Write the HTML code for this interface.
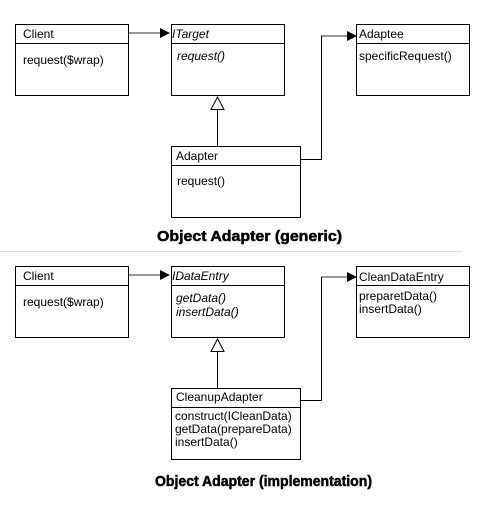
<!DOCTYPE html>
<html><head><style>
body{margin:0;background:#fff;}
text{font-family:"Liberation Sans",Arial,sans-serif;font-size:12px;fill:#000;}
.t{font-weight:bold;font-size:15px;stroke:#000;stroke-width:0.5;}
</style></head><body>
<svg width="500" height="500" xmlns="http://www.w3.org/2000/svg">
<g fill="#fff" stroke="#000" stroke-width="1">
<rect x="15.5" y="24.5" width="113" height="71"/><line x1="15" y1="43.5" x2="129" y2="43.5"/>
<rect x="171.5" y="24.5" width="113" height="71"/><line x1="171" y1="43.5" x2="285" y2="43.5"/>
<rect x="356.5" y="24.5" width="113" height="71"/><line x1="356" y1="43.5" x2="470" y2="43.5"/>
<rect x="171.5" y="146.5" width="129" height="71"/><line x1="171" y1="165.5" x2="301" y2="165.5"/>
<rect x="15.5" y="266.5" width="113" height="71"/><line x1="15" y1="285.5" x2="129" y2="285.5"/>
<rect x="171.5" y="266.5" width="113" height="71"/><line x1="171" y1="285.5" x2="285" y2="285.5"/>
<rect x="356.5" y="266.5" width="113" height="71"/><line x1="356" y1="285.5" x2="470" y2="285.5"/>
<rect x="171.5" y="388.5" width="129" height="71"/><line x1="171" y1="407.5" x2="301" y2="407.5"/>
</g>
<line x1="0" y1="251.5" x2="462" y2="251.5" stroke="#ddd" stroke-width="1"/>
<g stroke="#777" fill="none" stroke-width="1.5">
<line x1="129" y1="33" x2="162" y2="33"/>
<line x1="129" y1="275" x2="162" y2="275"/>
<polyline points="321,36 348,36"/>
<polyline points="321,277 348,277"/>
</g>
<g stroke="#000" fill="none" stroke-width="1">
<polyline points="301,159.5 321.5,159.5 321.5,36"/>
<polyline points="301,400.5 321.5,400.5 321.5,277"/>
<line x1="217.5" y1="146" x2="217.5" y2="109"/>
<line x1="217.5" y1="388" x2="217.5" y2="351"/>
<polygon points="217.5,97 211,109.5 224,109.5" fill="#fff"/>
<polygon points="217.5,339 211,351.5 224,351.5" fill="#fff"/>
</g>
<g fill="#000">
<polygon points="160,28 170,33 160,38"/>
<polygon points="160,270 170,275 160,280"/>
<polygon points="347,31 357,36 347,41"/>
<polygon points="347,272 357,277 347,282"/>
</g>
<text x="23" y="38">Client</text>
<text x="23" y="64">request($wrap)</text>
<text x="172" y="38" font-style="italic">ITarget</text>
<text x="177" y="60" font-style="italic">request()</text>
<text x="359" y="38">Adaptee</text>
<text x="359" y="60">specificRequest()</text>
<text x="176" y="160">Adapter</text>
<text x="177" y="185">request()</text>
<text class="t" x="157" y="241" textLength="185" lengthAdjust="spacingAndGlyphs">Object Adapter (generic)</text>
<text x="23" y="280">Client</text>
<text x="23" y="306">request($wrap)</text>
<text x="172" y="280" font-style="italic">IDataEntry</text>
<text x="176" y="302" font-style="italic">getData()</text>
<text x="176" y="316" font-style="italic">insertData()</text>
<text x="359" y="281">CleanDataEntry</text>
<text x="359" y="300">preparetData()</text>
<text x="359" y="313">insertData()</text>
<text x="176" y="401">CleanupAdapter</text>
<text x="175" y="420">construct(ICleanData)</text>
<text x="175" y="433">getData(prepareData)</text>
<text x="175" y="446">insertData()</text>
<text class="t" x="155" y="486" textLength="217" lengthAdjust="spacingAndGlyphs">Object Adapter (implementation)</text>
</svg>
</body></html>
